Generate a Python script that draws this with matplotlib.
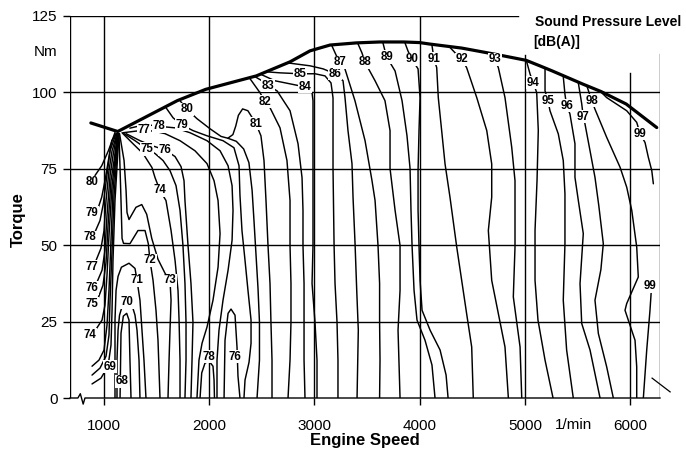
import matplotlib
matplotlib.use("Agg")
import matplotlib.pyplot as plt

plt.rcParams['font.family'] = ['Liberation Sans', 'DejaVu Sans']

speed_ticks = [1000, 2000, 3000, 4000, 5000, 6000]
torque_ticks = [0, 25, 50, 75, 100, 125]

# full-load torque curve
full_load_rpm = [880, 1135, 1700, 1970, 2450, 2770, 2960, 3150, 3400, 3620, 3850,
                 4000, 4100, 4400, 4730, 5010, 5140, 5260, 5550, 5720, 5960, 6250]
full_load_nm = [90.0, 87.2, 97.3, 101.0, 105.4, 110.0, 113.6, 115.5, 116.2, 116.5, 116.5,
                116.3, 115.8, 114.5, 112.4, 110.5, 108.7, 107.0, 102.7, 100.3, 96.2, 88.5]

# iso dB(A) lines as (rpm, Nm) points
# fan of lines left of the kink, ending at their labels
spl_80_left = [(1109, 86.9), (1093, 85.3), (1046, 80.9), (983, 76.0), (919, 72.8)]
spl_79_left = [(1119, 86.5), (1078, 84.2), (1046, 77.7), (1014, 71.1), (983, 65.7), (951, 62.4)]
spl_78_left = [(1119, 86.5), (1062, 80.9), (1030, 72.2), (998, 63.5), (967, 58.1), (919, 54.3)]
spl_77_left = [(1128, 86.5), (1081, 80.9), (1052, 74.4), (1024, 64.6), (1005, 54.8), (976, 49.0), (929, 45.0)]
spl_76_left = [(1128, 86.5), (1090, 79.3), (1062, 72.8), (1033, 59.7), (1014, 48.3), (986, 41.8), (938, 37.9)]
spl_75_left = [(1133, 86.5), (1100, 77.7), (1071, 71.1), (1043, 56.5), (1024, 44.4), (995, 36.9), (948, 32.6)]
spl_74_left = [(1138, 86.5), (1119, 80.9), (1081, 69.5), (1052, 53.2), (1033, 40.1), (1014, 30.4),
               (986, 25.5), (929, 22.5)]
spl_73_low = [(1138, 86.5), (1090, 67.9), (1071, 51.6), (1052, 35.2), (1033, 23.8), (1005, 15.7),
              (957, 12.4), (891, 10.4)]
spl_72_low = [(1142, 86.5), (1100, 66.3), (1081, 48.3), (1062, 32.0), (1052, 20.6), (1024, 13.7),
              (967, 9.8), (891, 7.5)]
spl_71_low = [(1147, 86.5), (1109, 64.6), (1090, 45.0), (1081, 28.7), (1071, 17.3), (1043, 10.4),
              (976, 6.5), (891, 4.6)]

# low-load islands
spl_69 = [(1157, 0), (1166, 21.2), (1188, 26.8), (1220, 27.7), (1242, 25.5), (1251, 12.4), (1261, 0)]
spl_70 = [(1128, 0), (1128, 12.4), (1138, 22.2), (1152, 27.1), (1180, 30.4), (1223, 31.7),
          (1270, 30.4), (1299, 27.1), (1318, 22.2), (1337, 12.4), (1346, 0)]
spl_71 = [(1109, 0), (1109, 12.4), (1109, 25.5), (1119, 35.2), (1138, 39.8), (1170, 42.8), (1242, 44.1),
          (1299, 42.4), (1318, 38.5), (1346, 32.0), (1365, 22.2), (1384, 12.4), (1403, 0)]
spl_72 = [(1147, 86.5), (1157, 75.0), (1166, 64.6), (1176, 52.2), (1190, 50.6), (1251, 50.5), (1327, 54.8),
          (1394, 54.8), (1425, 50.5), (1441, 45.0), (1470, 38.5), (1498, 28.7), (1517, 18.9), (1527, 9.1), (1536, 0)]
spl_73 = [(1152, 86.5), (1195, 77.7), (1214, 67.9), (1223, 60.7), (1242, 58.4), (1308, 62.4), (1363, 63.3),
          (1410, 60.1), (1458, 52.2), (1517, 45.4), (1584, 40.8), (1631, 38.5), (1641, 32.0), (1631, 22.2),
          (1622, 12.4), (1612, 0)]
spl_74 = [(1176, 86.8), (1280, 83.2), (1375, 80.0), (1460, 75.4), (1489, 72.1), (1536, 67.9), (1593, 64.6),
          (1641, 54.8), (1679, 45.0), (1707, 35.2), (1717, 25.5), (1726, 12.4), (1726, 0)]
spl_75 = [(1195, 86.5), (1299, 84.2), (1410, 81.5), (1489, 80.0), (1565, 77.7), (1631, 74.4), (1688, 69.5),
          (1726, 61.4), (1754, 49.9), (1773, 37.5), (1783, 24.8), (1783, 12.4), (1773, 0)]
spl_76 = [(1214, 86.5), (1346, 84.2), (1457, 82.6), (1584, 81.2), (1679, 79.0), (1736, 75.7), (1764, 71.1),
          (1773, 64.6), (1802, 49.9), (1830, 37.5), (1849, 24.8), (1840, 12.4), (1830, 0)]
spl_77 = [(1185, 86.8), (1300, 87.3), (1384, 87.6), (1480, 87.3), (1584, 86.5), (1726, 84.2), (1868, 80.9),
          (1982, 76.7), (2049, 71.1), (2087, 64.6), (2106, 53.8), (2087, 42.8), (2039, 32.0), (1982, 23.2),
          (1935, 17.9), (1906, 12.4), (1887, 0)]
spl_78 = [(1250, 88.3), (1400, 89.5), (1527, 88.9), (1679, 88.4), (1821, 86.8), (1982, 84.2), (2106, 80.9),
          (2182, 76.0), (2220, 69.5), (2229, 61.4), (2220, 51.6), (2182, 41.8), (2134, 32.0), (2096, 22.2),
          (2077, 12.4), (2077, 0)]
spl_78_island = [(1916, 0), (1932, 8.2), (1963, 11.4), (2001, 12.1), (2039, 10.4), (2049, 5.9), (2053, 0)]
spl_76_island = [(2144, 0), (2153, 18.9), (2182, 27.7), (2210, 29.1), (2248, 27.1), (2267, 16.6), (2276, 7.2), (2295, 0)]
spl_79 = [(1593, 95.0), (1660, 91.7), (1742, 89.4), (1849, 87.5), (1982, 85.8), (2134, 84.2), (2238, 81.9),
          (2286, 76.0), (2295, 66.3), (2314, 54.8), (2343, 45.0), (2371, 35.2), (2400, 25.5), (2400, 17.9),
          (2381, 11.7), (2343, 5.9), (2333, 0)]
spl_80 = [(1726, 97.3), (1790, 94.5), (1887, 91.4), (2011, 88.1), (2115, 85.6), (2180, 85.0), (2260, 84.0),
          (2330, 81.5), (2380, 77.0), (2410, 68.0), (2428, 58.0), (2447, 47.0), (2466, 36.0), (2480, 24.8),
          (2480, 12.4), (2457, 0)]
spl_81 = [(2180, 85.0), (2228, 86.2), (2255, 89.0), (2280, 92.5), (2320, 94.6), (2370, 94.0), (2410, 91.8),
          (2447, 89.7), (2494, 85.8), (2523, 77.7), (2542, 64.6), (2561, 49.9), (2580, 37.5), (2589, 24.8),
          (2599, 12.4), (2599, 0)]
spl_82 = [(2390, 104.5), (2485, 99.9), (2532, 97.0), (2580, 95.0), (2675, 88.4), (2741, 77.7), (2770, 64.6),
          (2770, 49.9), (2779, 37.5), (2779, 24.8), (2770, 12.4), (2751, 0)]
spl_83 = [(2440, 105.1), (2504, 103.8), (2561, 102.2), (2647, 100.5), (2770, 94.0), (2846, 83.2), (2884, 72.1),
          (2893, 61.4), (2893, 49.9), (2903, 37.5), (2903, 24.8), (2903, 12.4), (2912, 0)]
spl_84 = [(2500, 105.8), (2627, 103.8), (2770, 102.8), (2912, 101.8), (2979, 99.9), (2988, 97.3), (2988, 75.1),
          (2988, 49.9), (2979, 37.5), (3007, 24.8), (3026, 12.4), (3026, 0)]
spl_85 = [(2560, 106.7), (2675, 106.4), (2864, 106.1), (3007, 106.1), (3102, 105.4), (3159, 103.1), (3178, 98.2),
          (3178, 75.0), (3188, 50.0), (3197, 37.5), (3216, 24.8), (3225, 12.4), (3225, 0)]
spl_86 = [(2760, 109.6), (2960, 108.7), (3084, 107.7), (3197, 106.1), (3273, 103.8), (3292, 98.2), (3320, 87.5),
          (3358, 76.7), (3368, 65.6), (3387, 50.6), (3403, 35.2), (3418, 22.2), (3406, 0)]
spl_87 = [(3168, 115.2), (3206, 112.3), (3244, 109.8), (3291, 107.7), (3386, 97.3), (3482, 84.2), (3548, 71.1),
          (3577, 64.6), (3605, 49.9), (3620, 37.5), (3620, 24.8), (3624, 12.4), (3620, 0)]
spl_88 = [(3415, 115.9), (3453, 112.9), (3482, 109.8), (3577, 103.8), (3671, 97.3), (3719, 87.5), (3719, 75.1),
          (3767, 61.4), (3814, 49.9), (3814, 35.2), (3795, 22.2), (3814, 0)]
spl_89 = [(3652, 116.2), (3671, 113.6), (3687, 111.6), (3767, 107.0), (3833, 97.3), (3880, 85.8), (3909, 75.1),
          (3918, 61.4), (3928, 49.9), (3947, 35.2), (3975, 25.5), (4051, 18.9), (4117, 10.8), (4146, 0)]
spl_90 = [(3861, 116.2), (3889, 113.6), (3925, 110.9), (3985, 107.7), (4004, 98.2), (3994, 87.5), (3985, 74.4),
          (3985, 61.4), (3994, 49.9), (4004, 38.5), (4023, 28.7), (4099, 22.2), (4194, 15.7), (4251, 7.5), (4270, 0)]
spl_91 = [(4117, 115.4), (4136, 111.0), (4162, 108.1), (4177, 98.3), (4209, 87.5), (4241, 76.6), (4288, 65.7),
          (4352, 49.4), (4399, 38.5), (4446, 27.6), (4494, 16.7), (4509, 0)]
spl_92 = [(4288, 114.7), (4335, 113.0), (4399, 110.9), (4446, 108.1), (4542, 98.3), (4637, 87.5), (4684, 76.6),
          (4684, 65.7), (4652, 54.8), (4684, 38.5), (4747, 27.6), (4810, 16.7), (4842, 0)]
spl_93 = [(4695, 112.3), (4713, 110.9), (4747, 108.1), (4810, 98.3), (4874, 82.0), (4905, 71.1), (4905, 49.4),
          (4889, 33.1), (4953, 16.7), (4969, 0)]
spl_94 = [(5016, 110.0), (5048, 106.0), (5079, 103.2), (5111, 99.9), (5126, 87.5), (5114, 71.1), (5095, 54.8),
          (5095, 38.5), (5123, 25.5), (5190, 12.4), (5266, 0)]
spl_95 = [(5190, 107.7), (5190, 100.5), (5218, 97.3), (5237, 94.0), (5316, 86.4), (5363, 77.7), (5379, 66.8),
          (5379, 50.5), (5363, 32.0), (5395, 15.7), (5458, 0)]
spl_96 = [(5363, 105.2), (5379, 99.4), (5395, 95.6), (5426, 93.0), (5474, 83.2), (5474, 72.2), (5506, 64.6),
          (5553, 53.8), (5522, 37.4), (5538, 24.4), (5617, 15.7), (5712, 0)]
spl_97 = [(5506, 103.1), (5538, 96.3), (5553, 92.0), (5569, 89.7), (5617, 80.9), (5664, 72.2), (5700, 63.0),
          (5743, 50.5), (5720, 42.0), (5664, 32.0), (5696, 21.1), (5775, 10.2), (5838, 0)]
spl_98 = [(5590, 101.8), (5633, 97.3), (5664, 94.5), (5775, 85.3), (5902, 75.5), (5965, 69.0), (6013, 61.4),
          (6060, 49.4), (6075, 39.6), (5965, 30.9), (5949, 28.7), (5980, 25.5), (6044, 18.9), (6060, 10.2), (6060, 0)]
spl_99_top = [(5728, 99.9), (5775, 98.3), (5965, 94.0), (6060, 90.2), (6092, 86.5), (6139, 83.6), (6170, 78.8),
              (6203, 74.4), (6218, 70.1)]
spl_99_low = [(6200, 36.0), (6186, 28.7), (6155, 15.7), (6123, 0)]

isolines = [spl_80_left, spl_79_left, spl_78_left, spl_77_left, spl_76_left, spl_75_left, spl_74_left,
            spl_73_low, spl_72_low, spl_71_low, spl_69, spl_70, spl_71, spl_72, spl_73, spl_74, spl_75,
            spl_76, spl_77, spl_78, spl_78_island, spl_76_island, spl_79, spl_80, spl_81, spl_82, spl_83,
            spl_84, spl_85, spl_86, spl_87, spl_88, spl_89, spl_90, spl_91, spl_92, spl_93, spl_94, spl_95,
            spl_96, spl_97, spl_98, spl_99_top, spl_99_low]

# (text, rpm, Nm)
level_labels = [
    ("80", 888, 70.6), ("79", 888, 60.7), ("78", 872, 52.6), ("77", 888, 42.9), ("76", 894, 36.0),
    ("75", 888, 30.9), ("74", 872, 20.6), ("69", 1062, 10.2), ("68", 1173, 5.5),
    ("70", 1220, 31.3), ("71", 1315, 38.5), ("72", 1441, 45.0), ("73", 1631, 38.5), ("74", 1536, 67.9),
    ("75", 1410, 81.5), ("76", 1584, 81.2), ("77", 1384, 87.6), ("78", 1527, 88.9), ("79", 1742, 89.4),
    ("80", 1790, 94.5), ("81", 2447, 89.7), ("82", 2532, 97.0), ("83", 2561, 102.2), ("84", 2912, 101.8),
    ("85", 2864, 106.1), ("86", 3197, 106.1), ("87", 3244, 109.8), ("88", 3482, 109.8), ("89", 3687, 111.6),
    ("90", 3925, 110.9), ("91", 4136, 111.0), ("92", 4399, 110.9), ("93", 4713, 110.9), ("94", 5079, 103.2),
    ("95", 5218, 97.3), ("96", 5395, 95.6), ("97", 5553, 92.0), ("98", 5633, 97.3), ("99", 6092, 86.5),
    ("99", 6186, 36.6), ("78", 2001, 13.5), ("76", 2248, 13.5),
]

x_min, x_max = 682, 6281
y_min, y_max = 0, 125

fig = plt.figure(figsize=(6.86, 4.57), dpi=100)
ax = fig.add_axes([70 / 686, 59 / 457, 590 / 686, 382 / 457])
ax.set_xlim(x_min, x_max)
ax.set_ylim(y_min, y_max)
for s in ax.spines.values():
    s.set_visible(False)

grid_kw = dict(color='black', lw=1.0, zorder=1)
# frame and grid
ax.plot([x_min, x_min], [0, 125], **grid_kw)
ax.plot([x_min, 4934], [125, 125], **grid_kw)
ax.plot([x_max, x_max], [0, 112.6], **grid_kw)
for t in torque_ticks[1:-1]:
    ax.plot([x_min, x_max], [t, t], **grid_kw)
for s in speed_ticks:
    top = {5000: 112.2, 6000: 106.3}.get(s, 125)
    ax.plot([s, s], [0, top], **grid_kw)
# bottom axis with break mark
ax.plot([x_min, 757, 780, 807, 824, x_max], [0, 0, 1.4, -2.0, 0, 0], color='black', lw=1.0,
        zorder=1, clip_on=False)
ax.plot([6206, 6377], [6.5, 2.0], color='black', lw=0.9, clip_on=False)

ax.set_xticks(speed_ticks)
ax.set_yticks(torque_ticks)
ax.tick_params(axis='x', direction='out', length=5, width=1.0, pad=10, labelsize=11)
ax.tick_params(axis='y', direction='out', length=5, width=1.0, pad=4, labelsize=11)

for line in isolines:
    xs = [p[0] for p in line]
    ys = [p[1] for p in line]
    ax.plot(xs, ys, color='black', lw=1.05, zorder=2, solid_capstyle='round')

ax.plot(full_load_rpm, full_load_nm, color='black', lw=2.3, zorder=3, solid_capstyle='round')

for txt, x, y in level_labels:
    ax.text(x, y, txt, ha='center', va='center', fontsize=8.3, fontweight='bold', zorder=4,
            bbox=dict(boxstyle='square,pad=0.05', fc='white', ec='none'))

ax.text(454, 113.2, 'Nm', ha='center', va='center', fontsize=11, clip_on=False)
fig.text(574 / 686, 1 - 425 / 457, '1/min', ha='center', va='center', fontsize=11)
fig.text(535 / 686, 1 - 22 / 457, 'Sound Pressure Level', ha='left', va='center', fontsize=10,
         fontweight='bold')
fig.text(533 / 686, 1 - 42 / 457, '[dB(A)]', ha='left', va='center', fontsize=10, fontweight='bold')
fig.text(365 / 686, 1 - 441 / 457, 'Engine Speed', ha='center', va='center', fontsize=12,
         fontweight='bold')
fig.text(18 / 686, 1 - 220 / 457, 'Torque', ha='center', va='center', fontsize=12,
         fontweight='bold', rotation=90)

fig.savefig('out.png', dpi=100)
